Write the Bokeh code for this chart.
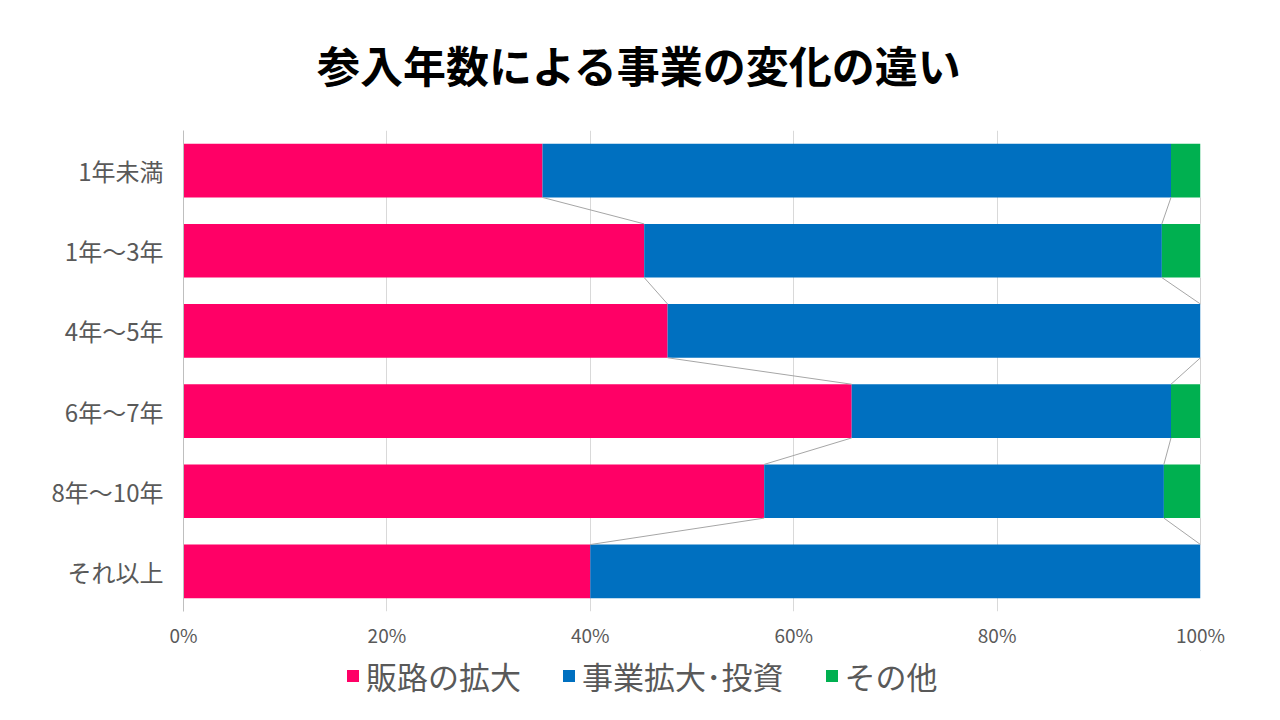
from bokeh.plotting import figure
from bokeh.models import (ColumnDataSource, Range1d, FactorRange, FixedTicker,
                          PrintfTickFormatter, Legend, LegendItem)
from bokeh.core.properties import value
from bokeh.layouts import column
from bokeh.embed import file_html
from bokeh.resources import INLINE

categories = ["1年未満", "1年～3年", "4年～5年", "6年～7年", "8年～10年", "それ以上"]
series_names = ["販路の拡大", "事業拡大･投資", "その他"]
hanro = [35.3, 45.3, 47.6, 65.7, 57.1, 40.0]
jigyo = [61.8, 50.9, 52.4, 31.4, 39.3, 60.0]
sonota = [2.9, 3.8, 0.0, 2.9, 3.6, 0.0]
x_ticks = [0, 20, 40, 60, 80, 100]
title_text = "参入年数による事業の変化の違い"

colors = ["#FF0066", "#0070C0", "#00B050"]
FONT = "Noto Sans CJK JP"
BAR_H = 0.67
W = 1264

# ---- title strip ----
p0 = figure(width=W, height=120, output_backend="svg", toolbar_location=None,
            x_axis_type=None, y_axis_type=None,
            x_range=Range1d(183, 1200), y_range=Range1d(120, 0),
            min_border_top=0, min_border_bottom=0, min_border_left=0, min_border_right=0)
p0.outline_line_color = None
p0.grid.visible = False
p0.text(x=[639], y=[63], text=[title_text], text_font=value(FONT),
        text_font_size="43px", text_font_style="bold", text_color="#000000",
        text_align="center", text_baseline="middle")

# ---- main chart ----
src = ColumnDataSource(dict(cat=categories, hanro=hanro, jigyo=jigyo, sonota=sonota))

p = figure(width=W, height=530, output_backend="svg", toolbar_location=None,
           y_range=FactorRange(*categories[::-1]), x_range=Range1d(0, 100),
           min_border_left=183, min_border_right=64, min_border_top=10,
           min_border_bottom=38)
p.outline_line_color = None
p.background_fill_color = "white"

renderers = p.hbar_stack(["hanro", "jigyo", "sonota"], y="cat", height=BAR_H,
                         color=colors, line_color=None, source=src)

# series lines connecting cumulative ends
vals = [hanro, jigyo, sonota]
cum = []
run = [0.0] * len(categories)
for v in vals:
    run = [r + a for r, a in zip(run, v)]
    cum.append(list(run))
x0, y0, x1, y1 = [], [], [], []
half = BAR_H / 2
for k in range(3):
    for i in range(len(categories) - 1):
        x0.append(cum[k][i]); y0.append((categories[i], -half))
        x1.append(cum[k][i + 1]); y1.append((categories[i + 1], half))
p.segment(x0=x0, y0=y0, x1=x1, y1=y1, line_color="#A6A6A6", line_width=1)

p.xaxis.ticker = FixedTicker(ticks=x_ticks)
p.xaxis.formatter = PrintfTickFormatter(format="%d%%")
p.xaxis.axis_line_color = None
p.xaxis.major_tick_line_color = None
p.xaxis.minor_tick_line_color = None
p.xaxis.major_tick_out = 0
p.xaxis.major_tick_in = 0
p.xaxis.major_label_text_font = FONT
p.xaxis.major_label_text_font_size = "19px"
p.xaxis.major_label_text_color = "#595959"
p.xaxis.major_label_standoff = 9

p.yaxis.axis_line_color = "#BFBFBF"
p.yaxis.major_tick_line_color = None
p.yaxis.minor_tick_line_color = None
p.yaxis.major_tick_out = 0
p.yaxis.major_tick_in = 0
p.yaxis.major_label_text_font = FONT
p.yaxis.major_label_text_font_size = "24px"
p.yaxis.major_label_text_color = "#595959"
p.yaxis.major_label_standoff = 20

p.xgrid.grid_line_color = "#D9D9D9"
p.ygrid.grid_line_color = None

# ---- legend strip ----
p2 = figure(width=W, height=54, output_backend="svg", toolbar_location=None,
            x_axis_type=None, y_axis_type=None, x_range=Range1d(0, 1), y_range=Range1d(0, 1),
            min_border_left=0, min_border_right=0, min_border_top=0, min_border_bottom=0)
p2.outline_line_color = None
p2.grid.visible = False
dummies = [p2.hbar(y=[5], left=[5], right=[6], height=0.5, color=c, line_color=None)
           for c in colors]

legend = Legend(items=[LegendItem(label=n, renderers=[r]) for n, r in zip(series_names, dummies)],
                orientation="horizontal", location=(162, 6))
legend.label_text_font = FONT
legend.label_text_font_size = "31px"
legend.label_text_color = "#595959"
legend.glyph_width = 15
legend.glyph_height = 15
legend.label_standoff = 6
legend.spacing = 40
legend.padding = 0
legend.margin = 0
legend.border_line_color = None
legend.background_fill_alpha = 0
p2.add_layout(legend, "center")

layout = column(p0, p, p2, spacing=0)
open("out.html", "w").write(file_html(layout, INLINE))
